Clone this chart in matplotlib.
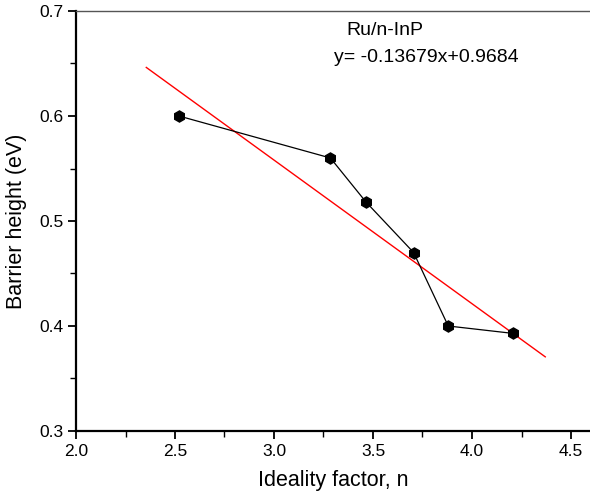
import matplotlib
matplotlib.use("Agg")
import matplotlib.pyplot as plt
import numpy as np
from matplotlib.ticker import MultipleLocator

plt.rcParams['font.family'] = ['Liberation Sans', 'DejaVu Sans']

ideality = [2.52, 3.285, 3.465, 3.705, 3.88, 4.205]
barrier = [0.600, 0.560, 0.518, 0.470, 0.400, 0.393]
slope = -0.13679
intercept = 0.9684
fit_range = [2.355, 4.37]

fig = plt.figure(figsize=(5.9, 4.97), dpi=100)
ax = fig.add_axes([76/590, 1-431/497, 1-76/590, 420/497])

fx = np.array(fit_range)
ax.plot(fx, slope*fx + intercept, color='red', lw=1.0, zorder=2)
ax.plot(ideality, barrier, color='black', lw=0.9, marker='h', ms=8,
        markerfacecolor='black', markeredgecolor='black', zorder=3)

ax.set_xlim(2.0, 2.0 + (590-76)/198)
ax.set_ylim(0.3, 0.7)
ax.xaxis.set_major_locator(MultipleLocator(0.5))
ax.xaxis.set_minor_locator(MultipleLocator(0.25))
ax.yaxis.set_major_locator(MultipleLocator(0.1))
ax.yaxis.set_minor_locator(MultipleLocator(0.05))
ax.xaxis.set_major_formatter(matplotlib.ticker.FormatStrFormatter('%.1f'))
ax.yaxis.set_major_formatter(matplotlib.ticker.FormatStrFormatter('%.1f'))

ax.spines['right'].set_visible(False)
ax.spines['top'].set_color('#555555')
ax.spines['top'].set_linewidth(1.0)
for s in ['left', 'bottom']:
    ax.spines[s].set_linewidth(1.6)
    ax.spines[s].set_color('black')

ax.tick_params(which='major', direction='out', length=6, width=1.3, labelsize=12.5, pad=3)
ax.tick_params(which='minor', direction='out', length=4, width=1.0)
ax.tick_params(top=False, right=False)

ax.set_xlabel('Ideality factor, n', fontsize=15.5, labelpad=8)
ax.set_ylabel('Barrier height (eV)', fontsize=15.5, labelpad=9)

ax.text(3.56, 0.681, 'Ru/n-InP', fontsize=14, ha='center', va='center')
ax.text(3.77, 0.656, 'y= -0.13679x+0.9684', fontsize=14, ha='center', va='center')

fig.savefig('out.png', dpi=100)
